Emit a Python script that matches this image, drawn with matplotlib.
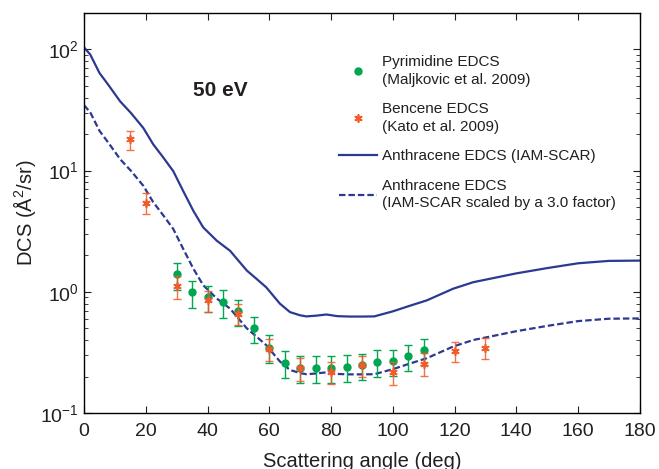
#!/usr/bin/env python3
import numpy as np
import matplotlib
matplotlib.use('Agg')
import matplotlib.pyplot as plt
from matplotlib.lines import Line2D

plt.rcParams['font.family'] = ['Liberation Sans', 'DejaVu Sans']
plt.rcParams['mathtext.fontset'] = 'custom'
plt.rcParams['mathtext.rm'] = 'Liberation Sans'
plt.rcParams['mathtext.it'] = 'Liberation Sans:italic'

# Anthracene IAM-SCAR curve
iam_angle = [0, 2, 5, 8, 11.7, 15.2, 19.2, 22.4, 25.7, 28.9, 32.1, 35.4,
             38.6, 43, 47.3, 52.7, 56, 59, 63.4, 66.7, 70, 72, 75, 78.5,
             82, 86, 90, 94, 100, 105, 111, 119.5, 126, 132, 140, 150,
             160, 170, 180]
iam_dcs = [104, 91, 64, 50.5, 37.3, 29.9, 22.5, 16.5, 12.8, 9.9, 6.8, 4.66,
           3.4, 2.64, 2.18, 1.5, 1.27, 1.09, 0.80, 0.68, 0.64, 0.627, 0.635,
           0.65, 0.63, 0.625, 0.625, 0.627, 0.69, 0.76, 0.85, 1.06, 1.20,
           1.29, 1.42, 1.57, 1.72, 1.80, 1.81]
scale_factor = 3.0

# Pyrimidine EDCS (Maljkovic et al. 2009)
pyr_angle = [30, 35, 40, 45, 50, 55, 60, 65, 70, 75, 80, 85, 90, 95, 100, 105, 110]
pyr_dcs = [1.39, 0.99, 0.90, 0.82, 0.69, 0.50, 0.347, 0.259, 0.236, 0.236,
           0.236, 0.240, 0.248, 0.264, 0.267, 0.294, 0.33]
pyr_err = [0.35, 0.25, 0.22, 0.21, 0.17, 0.12, 0.09, 0.065, 0.06, 0.06,
           0.06, 0.06, 0.06, 0.065, 0.065, 0.07, 0.08]

# Benzene EDCS (Kato et al. 2009)
ben_angle = [15, 20, 30, 40, 50, 60, 70, 80, 90, 100, 110, 120, 130]
ben_dcs = [18.1, 5.45, 1.11, 0.85, 0.66, 0.34, 0.233, 0.218, 0.248, 0.218,
           0.256, 0.325, 0.347]
ben_err = [3.3, 1.1, 0.23, 0.17, 0.13, 0.07, 0.05, 0.045, 0.05, 0.048,
           0.055, 0.063, 0.07]

blue = '#2b3990'
green = '#00a651'
orange = '#f15a29'
txt = '#231f20'
dash = (2.9, 1.35)

fig = plt.figure(figsize=(6.59, 4.69), dpi=100)
ax = fig.add_axes([0.1275, 0.1194, 0.8435, 0.8529])

ax.plot(iam_angle, iam_dcs, color=blue, lw=1.6)
ax.plot(iam_angle, np.array(iam_dcs) / scale_factor, color=blue, lw=1.6,
        dashes=dash)

ax.errorbar(pyr_angle, pyr_dcs, yerr=pyr_err, fmt='o', color=green, ms=5,
            elinewidth=1, capsize=2.8, capthick=1, zorder=3)
ax.errorbar(ben_angle, ben_dcs, yerr=ben_err, fmt='none', ecolor=orange,
            elinewidth=1, capsize=3, capthick=1, alpha=0.85, zorder=4)
ax.plot(ben_angle, ben_dcs, ls='none', marker=(6, 2, 0), color=orange,
        ms=6, mew=1.2, zorder=5)

ax.set_yscale('log')
ax.set_xlim(0, 180)
ax.set_ylim(0.1, 200)
ax.set_xticks(range(0, 181, 20))
ax.tick_params(which='both', direction='in', top=True, right=True,
               labelsize=14, colors=txt)
ax.tick_params(which='major', length=5)
ax.tick_params(which='minor', length=3)
ax.tick_params(axis='x', pad=7.5)
for s in ax.spines.values():
    s.set_linewidth(1.0)

ax.set_xlabel('Scattering angle (deg)', fontsize=14.5, labelpad=8, color=txt)
ax.set_ylabel('DCS (Å$^2$/sr)', fontsize=14.5, labelpad=2, color=txt)

ax.text(44, 45.5, '50 eV', fontsize=15, fontweight='bold', ha='center',
        va='center', color=txt)

handles = [
    Line2D([], [], ls='none', marker='o', color=green, ms=5),
    Line2D([], [], ls='none', marker=(6, 2, 0), color=orange, ms=6, mew=1.2),
    Line2D([], [], color=blue, lw=1.6),
    Line2D([], [], color=blue, lw=1.6, dashes=dash),
]
labels = [
    'Pyrimidine EDCS\n(Maljkovic et al. 2009)',
    'Bencene EDCS\n(Kato et al. 2009)',
    'Anthracene EDCS (IAM-SCAR)',
    'Anthracene EDCS\n(IAM-SCAR scaled by a 3.0 factor)',
]
leg = ax.legend(handles, labels, loc='upper left', bbox_to_anchor=(0.459, 0.895),
                frameon=False, fontsize=11, handlelength=2.5,
                handletextpad=0.33, labelspacing=1.0, borderpad=0,
                borderaxespad=0)
for t in leg.get_texts():
    t.set_linespacing(1.35)
    t.set_color(txt)

fig.savefig('out.png', dpi=100)
